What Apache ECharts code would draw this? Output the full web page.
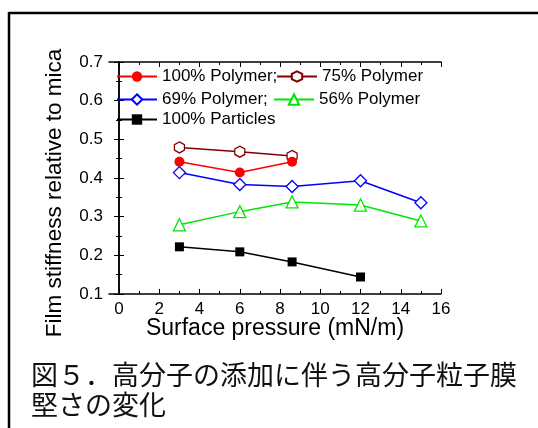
<!DOCTYPE html>
<html>
<head>
<meta charset="utf-8">
<script src="https://cdn.jsdelivr.net/npm/echarts@6/dist/echarts.min.js"></script>
<style>
  html, body { margin: 0; padding: 0; background: #fff; }
  #chart { width: 538px; height: 428px; }
</style>
</head>
<body>
<div id="chart"></div>
<script>
// surface pressure (mN/m) for each measured point
var pressure = [3, 6, 8.6, 12, 15];

var polymer100 = [0.442, 0.414, 0.442];
var polymer75 = [0.479, 0.468, 0.457];
var polymer69 = [0.414, 0.383, 0.378, 0.393, 0.336];
var polymer56 = [0.279, 0.313, 0.338, 0.330, 0.289];
var particles100 = [0.222, 0.209, 0.183, 0.144];

var xMajor = [0, 2, 4, 6, 8, 10, 12, 14, 16];
var xMinor = [1, 3, 5, 7, 9, 11, 13, 15];

var font = 'Liberation Sans, Arial, sans-serif';
var hexagon = 'path://M0,-10 L8.66,-5 L8.66,5 L0,10 L-8.66,5 L-8.66,-5 Z';

function pairs(ys) {
  var res = [];
  for (var i = 0; i < ys.length; i++) {
    res.push([pressure[i], ys[i]]);
  }
  return res;
}

function makeSeries(name, ys, color, symbol, size, hollow) {
  return {
    name: name,
    type: 'line',
    data: pairs(ys),
    symbol: symbol,
    symbolSize: size,
    showAllSymbol: true,
    lineStyle: { color: color, width: 1.5 },
    itemStyle: hollow
      ? { color: '#fff', borderColor: color, borderWidth: 1.3, opacity: 1 }
      : { color: color },
    emphasis: { disabled: true },
    animation: false
  };
}

function legendAt(name, left, centerY) {
  return {
    data: [name],
    left: left,
    top: centerY - 9,
    padding: 0,
    itemWidth: 40,
    itemHeight: 13,
    itemGap: 0,
    selectedMode: false,
    textStyle: { fontSize: 17, color: '#000', fontFamily: font }
  };
}

function xAxisDef(pos, ticks, len, showLine, showLabel) {
  return {
    type: 'value',
    position: pos,
    min: -0.5,
    max: 16,
    axisLine: { show: showLine, onZero: false, lineStyle: { color: '#000', width: 1.5 } },
    axisTick: { show: true, inside: true, length: len, customValues: ticks, lineStyle: { color: '#000', width: 1 } },
    axisLabel: { show: showLabel, customValues: ticks, fontSize: 17, color: '#000', fontFamily: font, margin: 7 },
    splitLine: { show: false }
  };
}

var chart = echarts.init(document.getElementById('chart'));

var option = {
  backgroundColor: '#fff',
  animation: false,
  title: {
    text: '図５．高分子の添加に伴う高分子粒子膜\n堅さの変化',
    left: 31,
    top: 360,
    padding: 0,
    textStyle: {
      fontSize: 27,
      lineHeight: 30,
      fontWeight: 'normal',
      color: '#111',
      fontFamily: 'Noto Sans CJK JP'
    }
  },
  legend: [
    legendAt('100% Polymer;', 116, 77),
    legendAt('75% Polymer', 276, 77),
    legendAt('69% Polymer;', 116, 100),
    legendAt('56% Polymer', 273, 100),
    legendAt('100% Particles', 116, 120)
  ],
  grid: { left: 109, right: 97, top: 62, bottom: 134 },
  xAxis: [
    Object.assign(xAxisDef('bottom', xMajor, 5, true, true), {
      name: 'Surface pressure (mN/m)',
      nameLocation: 'middle',
      nameGap: 23,
      nameMoveOverlap: false,
      nameTextStyle: { fontSize: 23, color: '#000', fontFamily: font }
    }),
    xAxisDef('bottom', xMinor, 3, false, false),
    xAxisDef('top', xMajor, 5, true, false),
    xAxisDef('top', xMinor, 3, false, false)
  ],
  yAxis: [
    {
      type: 'value',
      position: 'left',
      min: 0.1,
      max: 0.7,
      interval: 0.1,
      name: 'Film stiffness relative to mica',
      nameLocation: 'middle',
      nameGap: 43,
      nameMoveOverlap: false,
      nameTextStyle: { fontSize: 22.5, color: '#000', fontFamily: font, padding: [0, 30, 0, 0] },
      axisLine: { show: true, lineStyle: { color: '#000', width: 1.5 } },
      axisTick: { inside: true, length: 5, lineStyle: { color: '#000' } },
      minorTick: { show: true, splitNumber: 2, length: 3, lineStyle: { color: '#000' } },
      axisLabel: { fontSize: 17, color: '#000', fontFamily: font, margin: 6,
        formatter: function (v) { return v.toFixed(1); } },
      splitLine: { show: false }
    },
    {
      type: 'value',
      position: 'right',
      min: 0.1,
      max: 0.7,
      interval: 0.1,
      axisLine: { show: true, lineStyle: { color: '#000', width: 1.5 } },
      axisTick: { inside: true, length: 5, lineStyle: { color: '#000' } },
      minorTick: { show: true, splitNumber: 2, length: 3, lineStyle: { color: '#000' } },
      axisLabel: { show: false },
      splitLine: { show: false }
    }
  ],
  series: [
    makeSeries('75% Polymer', polymer75, '#800000', hexagon, [10, 11], true),
    makeSeries('100% Polymer;', polymer100, '#ff0000', 'circle', 10, false),
    makeSeries('69% Polymer;', polymer69, '#0000ff', 'diamond', 12, true),
    makeSeries('56% Polymer', polymer56, '#00e600', 'triangle', 12, true),
    makeSeries('100% Particles', particles100, '#000', 'rect', 9, false)
  ],
  graphic: [
    { type: 'line', shape: { x1: 9, y1: 13, x2: 538, y2: 13 }, style: { stroke: '#000', lineWidth: 2.5 } },
    { type: 'line', shape: { x1: 9, y1: 12, x2: 9, y2: 428 }, style: { stroke: '#000', lineWidth: 2.5 } }
  ]
};

chart.setOption(option);
</script>
</body>
</html>
